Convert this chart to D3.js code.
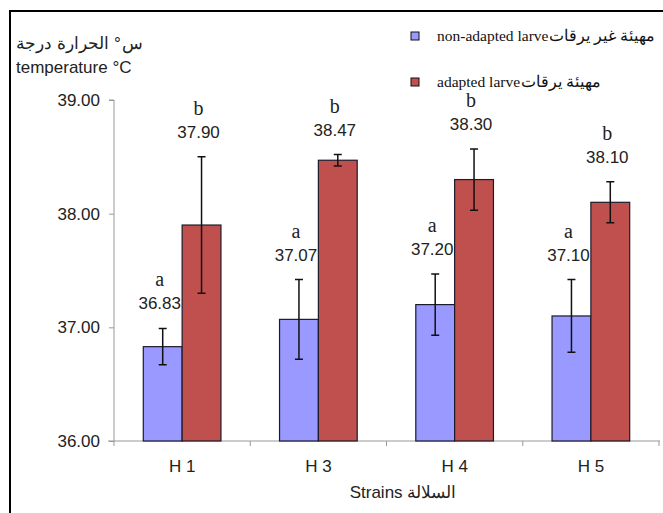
<!DOCTYPE html>
<html>
<head>
<meta charset="utf-8">
<script src="https://cdn.jsdelivr.net/npm/d3@7.9.0/dist/d3.min.js"></script>
<style>
  body { margin: 0; background: #fff; }
  svg { display: block; }
  .num { font-family: "Liberation Sans", Arial, sans-serif; font-size: 17px; fill: #222; }
  .sig { font-family: "Liberation Serif", "Times New Roman", serif; font-size: 20px; fill: #222; }
  .leg { font-family: "Liberation Serif", "Times New Roman", serif; font-size: 15.5px; fill: #111; }
</style>
</head>
<body>
<svg id="chart" width="663" height="513"></svg>
<script>
const strains = ['H 1', 'H 3', 'H 4', 'H 5'];
// the figure prints the Arabic words left to right, so they are kept as separate pieces
const seriesNames = [
  ['non-adapted larve', 'يرقات', 'غير', 'مهيئة'],
  ['adapted larve', 'يرقات', 'مهيئة']
];
const yTitle = [['درجة', 'الحرارة', '°', 'س'], ['temperature °C']];
const xTitle = 'Strains السلالة';
const nonAdapted = [36.83, 37.07, 37.20, 37.10];
const adapted = [37.90, 38.47, 38.30, 38.10];
const nonAdaptedErr = [0.16, 0.35, 0.27, 0.32];
const adaptedErr = [0.60, 0.05, 0.27, 0.18];
const nonAdaptedSig = ['a', 'a', 'a', 'a'];
const adaptedSig = ['b', 'b', 'b', 'b'];
const yTicks = [36, 37, 38, 39];
const colors = ['#9999FF', '#C0504D'];

const svg = d3.select('#chart');

// lay words out left to right, each as its own text element
function wordsLeftToRight(x0, y0, words, cls, gaps, size) {
  let cx = x0;
  words.forEach((w, i) => {
    const t = svg.append('text').attr('class', cls).attr('x', cx).attr('y', y0).text(w);
    if (size) t.style('font-size', size);
    cx += t.node().getComputedTextLength() + (gaps[i] || 0);
  });
}

// outer frame
svg.append('rect')
  .attr('x', 10).attr('y', 11)
  .attr('width', 700).attr('height', 600)
  .attr('fill', 'none').attr('stroke', '#000').attr('stroke-width', 2);

const plotLeft = 114, plotRight = 659, plotTop = 100, plotBottom = 441;

const x = d3.scaleBand().domain(strains).range([plotLeft, plotRight])
  .paddingInner(0.43).paddingOuter(0.215);
const xs = d3.scaleBand().domain([0, 1]).range([0, x.bandwidth()]);
const y = d3.scaleLinear().domain([36, 39]).range([plotBottom, plotTop]);

// y axis
const yAxis = svg.append('g')
  .attr('transform', `translate(${plotLeft},0)`)
  .call(d3.axisLeft(y).tickValues(yTicks).tickFormat(d3.format('.2f')).tickSize(5).tickPadding(9));
yAxis.attr('font-size', null).attr('font-family', null);
yAxis.select('.domain').attr('stroke', '#999').attr('d', `M-5,${plotTop}H0V${plotBottom}`);
yAxis.selectAll('.tick line').attr('stroke', '#999');
yAxis.selectAll('text').attr('class', 'num').attr('fill', '#222');

// x axis
const xAxis = svg.append('g').attr('transform', `translate(0,${plotBottom})`);
xAxis.append('line').attr('x1', plotLeft - 6).attr('x2', plotRight + 1).attr('stroke', '#999');
const bounds = strains.map(s => x(s) - (x.step() - x.bandwidth()) / 2).concat([plotRight]);
xAxis.selectAll('.xt').data(bounds).join('line')
  .attr('x1', d => d).attr('x2', d => d).attr('y1', 0).attr('y2', 5).attr('stroke', '#999');
xAxis.selectAll('.xl').data(strains).join('text')
  .attr('class', 'num')
  .attr('x', d => x(d) + x.bandwidth() / 2)
  .attr('y', 31)
  .attr('text-anchor', 'middle')
  .text(d => d);

// bars
const series = [
  { vals: nonAdapted, err: nonAdaptedErr, sig: nonAdaptedSig },
  { vals: adapted, err: adaptedErr, sig: adaptedSig }
];

series.forEach((s, si) => {
  const g = svg.append('g');
  const data = strains.map((st, i) => ({ st, v: s.vals[i], e: s.err[i], sig: s.sig[i] }));
  g.selectAll('rect').data(data).join('rect')
    .attr('x', d => x(d.st) + xs(si))
    .attr('width', xs.bandwidth())
    .attr('y', d => y(d.v))
    .attr('height', d => y(36) - y(d.v))
    .attr('fill', colors[si])
    .attr('stroke', '#1b1b2b')
    .attr('stroke-width', 1.2);

  const cx = d => x(d.st) + xs(si) + xs.bandwidth() / 2;
  g.selectAll('.eb').data(data).join('path')
    .attr('d', d => {
      const c = cx(d), t = y(d.v + d.e), b = y(d.v - d.e);
      return `M${c},${t}V${b}M${c - 4},${t}H${c + 4}M${c - 4},${b}H${c + 4}`;
    })
    .attr('stroke', '#111').attr('stroke-width', 1.5).attr('fill', 'none');

  g.selectAll('.val').data(data).join('text')
    .attr('class', 'num')
    .attr('x', d => cx(d) - 3)
    .attr('y', d => y(d.v + d.e) - 19)
    .attr('text-anchor', 'middle')
    .text(d => d.v.toFixed(2));

  g.selectAll('.sg').data(data).join('text')
    .attr('class', 'sig')
    .attr('x', d => cx(d) - 3)
    .attr('y', d => y(d.v + d.e) - 42)
    .attr('text-anchor', 'middle')
    .text(d => d.sig);
});

// y title
wordsLeftToRight(16, 49, yTitle[0], 'num', [5, 5, 1], '17px');
wordsLeftToRight(16, 73, yTitle[1], 'num', [], '17px');

// x title
svg.append('text').attr('class', 'num').attr('x', 403).attr('y', 498)
  .attr('text-anchor', 'middle').text(xTitle);

// legend
seriesNames.forEach((words, i) => {
  const ly = 36 + i * 46;
  svg.append('rect').attr('x', 411).attr('y', ly - 4).attr('width', 8).attr('height', 8)
    .attr('fill', colors[i]).attr('stroke', '#111').attr('stroke-width', 1);
  wordsLeftToRight(437, ly + 5, words, 'leg', [1, 4, 4]);
});
</script>
</body>
</html>
